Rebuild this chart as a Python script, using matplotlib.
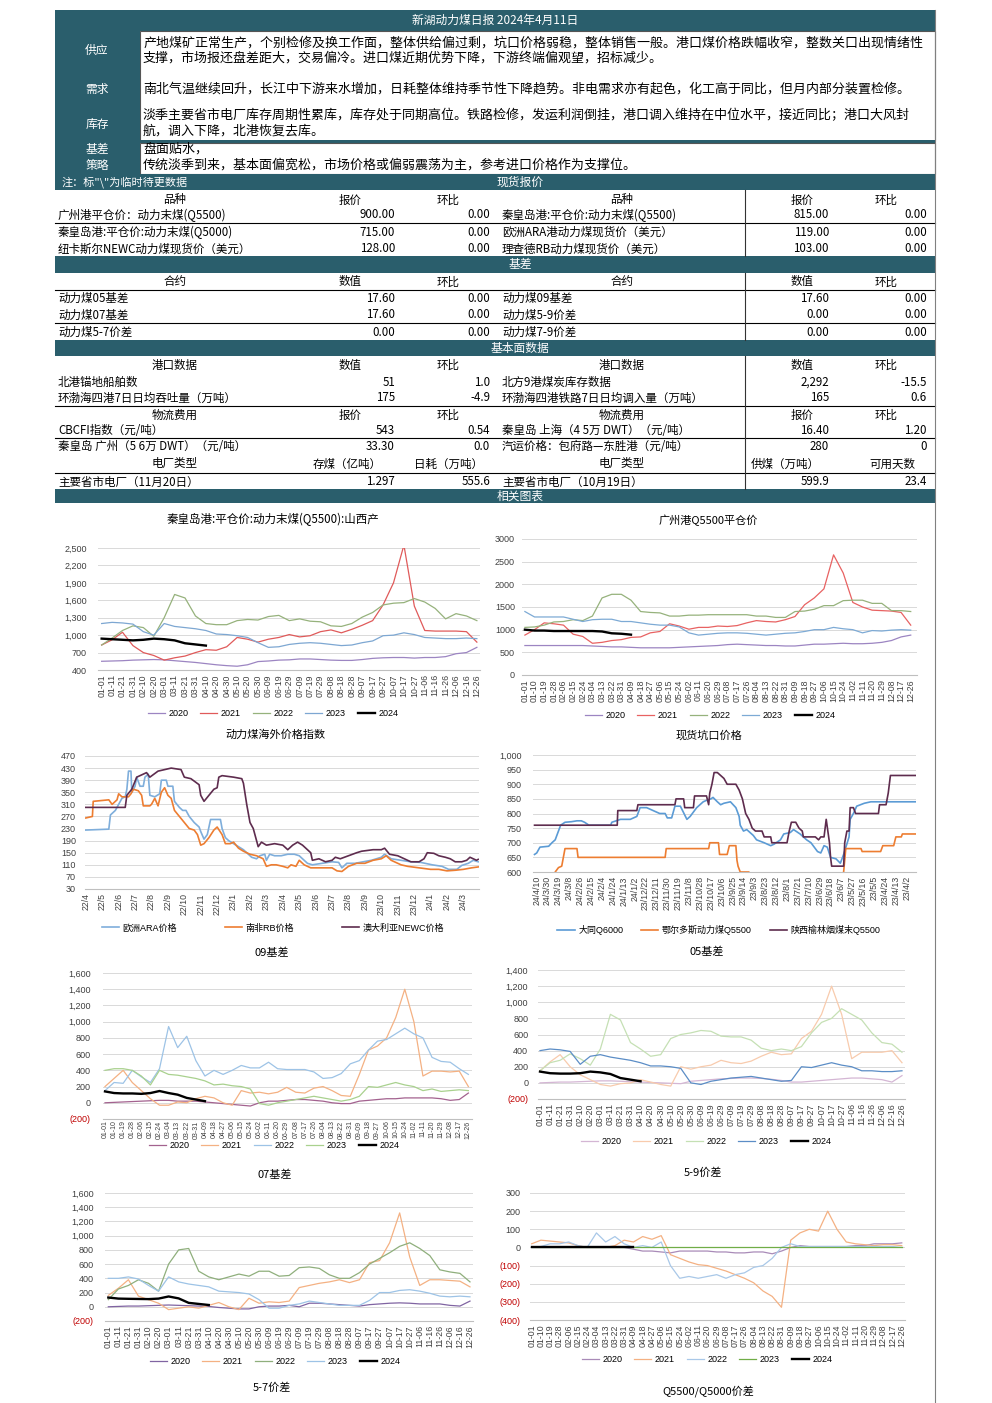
import matplotlib
matplotlib.use('Agg')
import matplotlib.pyplot as plt
from matplotlib.patches import Rectangle
from matplotlib.lines import Line2D

plt.rcParams['font.family'] = ['Noto Sans CJK SC', 'DejaVu Sans']
plt.rcParams['axes.unicode_minus'] = False

# ======================= DATA =======================
report_title = '新湖动力煤日报 2024年4月11日'
supply_lines = ['产地煤矿正常生产，个别检修及换工作面，整体供给偏过剩，坑口价格弱稳，整体销售一般。港口煤价格跌幅收窄，整数关口出现情绪性',
                '支撑，市场报还盘差距大，交易偏冷。进口煤近期优势下降，下游终端偏观望，招标减少。']
demand_lines = ['南北气温继续回升，长江中下游来水增加，日耗整体维持季节性下降趋势。非电需求亦有起色，化工高于同比，但月内部分装置检修。']
stock_lines = ['淡季主要省市电厂库存周期性累库，库存处于同期高位。铁路检修，发运利润倒挂，港口调入维持在中位水平，接近同比；港口大风封',
               '航，调入下降，北港恢复去库。']
strategy_lines = ['盘面贴水，', '传统淡季到来，基本面偏宽松，市场价格或偏弱震荡为主，参考进口价格作为支撑位。']
note_text = '注：标"\\"为临时待更数据'

spot_header = ['品种', '报价', '环比', '品种', '报价', '环比']
spot_rows = [
    ['广州港平仓价：动力末煤(Q5500)', '900.00', '0.00', '秦皇岛港:平仓价:动力末煤(Q5500)', '815.00', '0.00'],
    ['秦皇岛港:平仓价:动力末煤(Q5000)', '715.00', '0.00', '欧洲ARA港动力煤现货价（美元）', '119.00', '0.00'],
    ['纽卡斯尔NEWC动力煤现货价（美元）', '128.00', '0.00', '理查德RB动力煤现货价（美元）', '103.00', '0.00'],
]
basis_header = ['合约', '数值', '环比', '合约', '数值', '环比']
basis_rows = [
    ['动力煤05基差', '17.60', '0.00', '动力煤09基差', '17.60', '0.00'],
    ['动力煤07基差', '17.60', '0.00', '动力煤5-9价差', '0.00', '0.00'],
    ['动力煤5-7价差', '0.00', '0.00', '动力煤7-9价差', '0.00', '0.00'],
]
port_header = ['港口数据', '数值', '环比', '港口数据', '数值', '环比']
port_rows = [
    ['北港锚地船舶数', '51', '1.0', '北方9港煤炭库存数据', '2,292', '-15.5'],
    ['环渤海四港7日日均吞吐量（万吨）', '175', '-4.9', '环渤海四港铁路7日日均调入量（万吨）', '165', '0.6'],
]
freight_header = ['物流费用', '报价', '环比', '物流费用', '报价', '环比']
freight_rows = [
    ['CBCFI指数（元/吨）', '543', '0.54', '秦皇岛 上海（4 5万 DWT）（元/吨）', '16.40', '1.20'],
    ['秦皇岛 广州（5 6万 DWT）（元/吨）', '33.30', '0.0', '汽运价格：包府路—东胜港（元/吨）', '280', '0'],
]
plant_header = ['电厂类型', '存煤（亿吨）', '日耗（万吨）', '电厂类型', '供煤（万吨）', '可用天数']
plant_rows = [
    ['主要省市电厂（11月20日）', '1.297', '555.6', '主要省市电厂（10月19日）', '599.9', '23.4'],
]

years = ['2020', '2021', '2022', '2023', '2024']

labels10 = ['01-01', '01-11', '01-21', '01-31', '02-10', '02-20', '03-01', '03-11', '03-21', '03-31',
            '04-10', '04-20', '04-30', '05-10', '05-20', '05-30', '06-09', '06-19', '06-29', '07-09',
            '07-19', '07-29', '08-08', '08-18', '08-28', '09-07', '09-17', '09-27', '10-07', '10-17',
            '10-27', '11-06', '11-16', '11-26', '12-06', '12-16', '12-26']
labels9 = ['01-01', '01-10', '01-19', '01-28', '02-06', '02-15', '02-24', '03-04', '03-13', '03-22',
           '03-31', '04-09', '04-18', '04-27', '05-06', '05-15', '05-24', '06-02', '06-11', '06-20',
           '06-29', '07-08', '07-17', '07-26', '08-04', '08-13', '08-22', '08-31', '09-09', '09-18',
           '09-27', '10-06', '10-15', '10-24', '11-02', '11-11', '11-20', '11-29', '12-08', '12-17', '12-26']

# Chart 1: 秦皇岛港 Q5500 山西产
c1_2020 = [550, 555, 560, 570, 575, 580, 575, 560, 545, 530, 510, 490, 475, 465, 490, 545, 555, 570, 575, 590,
           590, 580, 570, 565, 565, 580, 600, 610, 615, 615, 605, 615, 615, 630, 680, 700, 790]
c1_2021 = [830, 920, 1050, 820, 700, 650, 570, 610, 640, 700, 750, 740, 800, 960, 930, 880, 930, 960, 1010, 970,
           990, 1060, 1090, 1040, 1100, 1170, 1250, 1520, 1900, 2550, 1500, 1080, 1070, 1070, 1070, 1060, 880]
c1_2022 = [830, 950, 1080, 1160, 1130, 980, 1300, 1700, 1640, 1330, 1200, 1180, 1180, 1250, 1270, 1260, 1320, 1340,
           1250, 1280, 1240, 1230, 1160, 1150, 1200, 1310, 1390, 1520, 1550, 1560, 1630, 1570, 1460, 1280, 1370, 1330, 1250]
c1_2023 = [1200, 1220, 1210, 1190, 1060, 1000, 1200, 1150, 1130, 1110, 1080, 1020, 1010, 990, 960, 870, 790, 800,
           840, 860, 870, 860, 840, 820, 830, 870, 900, 990, 1000, 1040, 1010, 960, 950, 940, 940, 950, 940]
c1_2024 = [940, 930, 920, 910, 920, 940, 930, 910, 860, 840, 820]

# Chart 2: 广州港 Q5500
c2_2020 = [650, 650, 650, 650, 650, 650, 650, 640, 630, 620, 620, 610, 600, 600, 600, 600, 610, 620, 630, 640, 650,
           670, 680, 670, 660, 650, 650, 640, 640, 660, 680, 680, 690, 700, 690, 690, 700, 720, 760, 840, 880]
c2_2021 = [880, 1000, 1150, 1130, 1100, 900, 850, 700, 720, 760, 780, 830, 840, 930, 960, 1130, 1080, 1010, 1050, 1050,
           1080, 1070, 1090, 1150, 1200, 1180, 1170, 1220, 1290, 1550, 1700, 1900, 2650, 2250, 1600, 1500, 1430, 1420,
           1410, 1380, 1100]
c2_2022 = [1050, 1060, 1100, 1170, 1180, 1220, 1200, 1300, 1700, 1780, 1780, 1650, 1400, 1380, 1370, 1300, 1300, 1320,
           1320, 1330, 1330, 1330, 1330, 1330, 1300, 1300, 1270, 1270, 1400, 1410, 1450, 1530, 1530, 1640, 1650, 1650,
           1580, 1580, 1420, 1420, 1400]
c2_2023 = [1400, 1280, 1280, 1280, 1280, 1230, 1180, 1220, 1230, 1230, 1180, 1180, 1150, 1120, 1100, 1100, 1060, 930,
           880, 900, 920, 930, 930, 920, 900, 880, 900, 920, 930, 960, 1000, 1000, 1050, 1020, 1000, 930, 980, 970, 990,
           1000, 990]
c2_2024 = [1000, 980, 980, 970, 970, 970, 970, 970, 960, 920, 910, 890]

# Chart 3: overseas price index (x in months since 2022/4)
c3_labels = ['22/4', '22/5', '22/6', '22/7', '22/8', '22/9', '22/10', '22/11', '22/12', '23/1', '23/2', '23/3',
             '23/4', '23/5', '23/6', '23/7', '23/8', '23/9', '23/10', '23/11', '23/12', '24/1', '24/2', '24/3']
ara_x = [0, 1.4, 1.5, 1.8, 2.2, 2.4, 2.5, 2.6, 2.75, 2.8, 3.0, 3.1, 3.3, 3.5, 3.6, 3.8, 3.9, 4.2, 4.5, 4.6, 4.9, 5.0,
         5.3, 5.4, 5.7, 5.9, 6.1, 6.3, 6.6, 6.9, 7.0, 7.2, 7.4, 7.6, 8.2, 8.3, 8.5, 8.7, 9.0, 9.3, 9.6, 9.8, 10.1,
         10.4, 10.6, 10.9, 11.0, 11.2, 11.5, 11.9, 12.3, 12.7, 13.0, 13.3, 13.5, 13.8, 14.4, 15.0, 15.4, 15.6, 15.9,
         16.4, 16.9, 17.4, 18.0, 18.2, 18.6, 19.2, 19.8, 20.4, 21.1, 21.7, 22.1, 22.6, 22.9, 23.3, 23.6, 23.9]
ara_v = [225, 228, 275, 290, 330, 335, 360, 420, 420, 350, 370, 400, 370, 370, 400, 410, 340, 335, 345, 390, 390, 370,
         370, 320, 300, 290, 290, 270, 250, 235, 220, 195, 210, 260, 260, 230, 200, 190, 180, 170, 160, 150, 135,
         130, 140, 145, 125, 145, 140, 140, 145, 145, 140, 125, 115, 110, 115, 120, 118, 100, 115,
         115, 120, 125, 135, 145, 130, 125, 120, 118, 110, 105, 95, 95, 108, 115, 125, 120]
rb_x = [0, 0.4, 0.45, 1.4, 1.6, 1.9, 2.0, 2.2, 2.6, 2.75, 2.9, 3.2, 3.4, 3.5, 3.9, 4.0, 4.2, 4.4, 4.6, 4.8, 5.0, 5.2,
        5.4, 5.7, 6.0, 6.3, 6.6, 6.8, 7.0, 7.2, 7.5, 7.8, 8.0, 8.3, 8.5, 8.8, 9.0, 9.3, 9.6, 10.0, 10.4, 10.8, 11.0,
        11.3, 11.6, 12.0, 12.3, 12.5, 12.8, 13.0, 13.3, 13.7, 14.2, 15.0, 15.3, 15.6, 16.0, 16.5, 17.0, 17.5, 18.0,
        18.3, 18.6, 19.2, 19.6, 20.3, 21.0, 21.5, 22.0, 22.5, 23.0, 23.5, 23.9]
rb_v = [265, 270, 320, 325, 310, 325, 345, 335, 335, 345, 360, 355, 340, 305, 305, 310, 330, 305, 350, 365, 340, 330,
        290, 270, 250, 230, 225, 210, 175, 180, 200, 225, 235, 210, 180, 180, 185, 165, 155, 145, 140, 130, 105,
        110, 110, 105, 100, 110, 105, 125, 110, 100, 100, 100, 90, 88, 105, 115, 115, 125, 130,
        140, 125, 110, 105, 100, 95, 95, 90, 92, 95, 100, 103]
newc_x = [0, 2.4, 2.5, 2.8, 3.1, 3.5, 3.7, 3.9, 4.4, 4.8, 5.2, 5.8, 6.0, 6.4, 6.9, 7.0, 7.2, 7.5, 7.8, 8.0, 8.1, 8.3,
          9.0, 9.5, 9.6, 9.8, 10.0, 10.2, 10.4, 10.5, 10.7, 11.0, 11.5, 12.0, 12.3, 12.6, 12.9, 13.2, 13.5, 13.7,
          13.8, 14.2, 14.6, 15.0, 15.2, 15.5, 16.0, 16.5, 16.8, 17.5, 18.0, 18.2, 18.5, 19.0, 19.4, 19.8, 20.3, 20.6,
          20.8, 21.2, 21.5, 21.9, 22.2, 22.5, 22.9, 23.2, 23.4, 23.6, 23.8, 23.9]
newc_v = [300, 300, 340, 360, 400, 410, 415, 400, 420, 425, 430, 425, 400, 395, 375, 340, 320, 340, 360, 365, 400, 405,
          400, 395, 380, 310, 250, 230, 190, 170, 185, 175, 180, 175, 160, 175, 185, 175, 160, 150,
          125, 130, 120, 125, 135, 130, 140, 150, 155, 160, 160, 165, 145, 140, 130, 120, 120, 130,
          150, 148, 140, 135, 130, 120, 120, 125, 135, 130, 125, 128]

# Chart 4: pithead prices (x = label index, newest first)
c4_labels = ['24/4/10', '24/3/30', '24/3/19', '24/3/8', '24/2/26', '24/2/15', '24/2/4', '24/1/24', '24/1/13', '24/1/2',
             '23/12/22', '23/12/11', '23/11/30', '23/11/19', '23/11/8', '23/10/28', '23/10/17', '23/10/6', '23/9/25',
             '23/9/14', '23/9/3', '23/8/23', '23/8/12', '23/8/1', '23/7/21', '23/7/10', '23/6/29', '23/6/18', '23/6/7',
             '23/5/27', '23/5/16', '23/5/5', '23/4/24', '23/4/13', '23/4/2']
datong_x = [-0.2, 0, 0.3, 1.1, 1.4, 1.7, 2.0, 2.2, 2.6, 3.2, 3.7, 4.1, 4.4, 4.8, 6.8, 6.9, 7.7, 8.6, 9.2, 9.5, 10.1,
            10.7, 11.3, 11.8, 12.0, 12.4, 12.7, 13.2, 13.8, 14.1, 14.7, 15.3, 15.6, 16.0, 16.2, 16.6, 16.9, 17.2,
            17.8, 18.3, 18.6, 18.7, 19.0, 19.3, 19.9, 20.2, 20.9, 21.5, 21.8, 22.4, 22.7, 23.3, 23.6, 24.2, 24.8,
            25.2, 25.8, 26.1, 26.4, 26.7, 27.0, 27.5, 27.9, 28.2, 28.7, 28.8, 29.1, 29.4, 30.1, 30.7, 34.9]
datong_v = [660, 665, 685, 688, 700, 710, 740, 760, 770, 772, 775, 775, 770, 760, 760, 770, 780, 780, 790, 820, 820,
            810, 800, 800, 785, 785, 825, 825, 780, 790, 820, 840, 845, 850, 855, 840, 830, 835,
            840, 820, 790, 760, 740, 745, 725, 710, 700, 690, 695, 710, 730, 735, 745, 730, 710,
            700, 670, 665, 690, 685, 650, 645, 630, 660, 720, 780, 800, 825, 835, 840, 840]
ordos_x = [-0.2, 1.5, 1.7, 2.0, 2.3, 2.6, 3.7, 3.8, 11.8, 11.9, 15.8, 15.9, 16.7, 16.8, 17.5, 17.7, 18.3, 18.4, 18.5,
           18.7, 19.5, 19.6, 28.1, 28.2, 28.4, 29.8, 29.9, 31.6, 31.8, 32.8, 33.0, 33.5, 33.6, 34.9]
ordos_v = [560, 560, 600, 615, 620, 680, 680, 650, 650, 680, 680, 700, 700, 660, 660, 690, 690, 640, 620,
           600, 600, 560, 560, 600, 680, 680, 670, 670, 690, 690, 720, 720, 730, 730]
yulin_x = [-0.2, 7.4, 7.45, 9.2, 9.3, 12.7, 12.8, 13.5, 13.6, 14.4, 14.5, 15.6, 15.8, 15.9, 16.1, 16.3, 16.6, 17.2,
           17.5, 18.3, 18.6, 18.9, 19.2, 19.5, 19.8, 20.1, 20.7, 20.9, 21.5, 21.6, 23.0, 23.2, 23.4, 23.8, 24.1, 24.4,
           24.5, 25.6, 25.9, 26.1, 26.4, 26.6, 26.75, 26.9, 27.0, 27.1, 28.2, 28.3, 28.5, 28.7, 28.8, 29.1, 29.3,
           31.4, 31.5, 32.1, 32.3, 32.5, 34.9]
yulin_v = [760, 760, 810, 810, 830, 830, 850, 850, 820, 820, 860, 860, 830, 870, 900, 940, 940, 920,
           900, 900, 880, 850, 800, 780, 750, 740, 740, 720, 720, 700, 700, 740, 770, 770, 750, 740,
           720, 720, 710, 720, 720, 780, 740, 700, 650, 620, 620, 700, 740, 740, 820, 820, 800,
           800, 830, 830, 870, 930, 930]

# Chart 5 (under "09基差")
c5_2020 = [0, 5, 10, 15, 20, 25, 30, 30, 20, 20, 20, 10, 0, -10, -20, -30, -40, 0, 20, 20, 30, 40, 40, 30, 20, 0,
           -10, -10, 20, 30, 40, 50, 50, 60, 60, 60, 60, 50, 30, 40, 120]
c5_2021 = [200, 300, 400, 250, 150, 50, -30, -30, 10, 0, 50, 80, 60, 0, -30, 150, 120, 130, 110, 130, 190, 130, 120,
           180, 200, 150, 90, 80, 350, 650, 700, 800, 1050, 1400, 1000, 330, 390, 390, 380, 390, 200]
c5_2022 = [150, 250, 240, 400, 320, 250, 420, 940, 680, 820, 520, 330, 400, 350, 400, 460, 430, 430, 500, 420, 410,
           410, 410, 380, 300, 310, 360, 480, 520, 650, 760, 780, 850, 920, 850, 800, 560, 510, 500, 420, 350]
c5_2023 = [400, 420, 420, 400, 330, 220, 400, 350, 340, 320, 300, 270, 220, 230, 210, 200, 170, -10, -30, 0, 20, 40,
           60, 80, 60, 40, 20, 40, 80, 200, 190, 220, 250, 220, 200, 150, 170, 140, 150, 160, 150]
c5_2024 = [140, 120, 115, 115, 110, 120, 145, 120, 100, 60, 40, 20]

# Chart 6 (under "05基差")
c6_2020 = [0, 5, 10, 10, 15, 20, 25, 25, 20, 15, 10, 5, 0, -5, -10, 20, 30, 40, 50, 55, 60, 60, 55, 45, 30, 10, 10,
           20, 30, 40, 50, 60, 60, 50, 40, 10, 90]
c6_2021 = [150, 260, 350, 200, 100, 40, -20, -40, -10, 0, 40, 10, -20, -40, 200, 170, 200, 220, 280, 250, 240, 270,
           330, 380, 350, 360, 550, 640, 850, 1200, 850, 300, 380, 380, 380, 400, 250]
c6_2022 = [150, 250, 280, 360, 300, 220, 420, 850, 780, 500, 420, 330, 350, 550, 600, 620, 650, 640, 580, 570, 570,
           530, 430, 400, 420, 400, 450, 620, 750, 800, 920, 850, 780, 620, 500, 480, 380]
c6_2023 = [400, 420, 410, 390, 230, 330, 350, 320, 300, 280, 250, 210, 210, 200, 180, 0, -20, 20, 40, 60, 70, 80, 60,
           40, 20, 30, 200, 190, 220, 250, 220, 200, 150, 150, 140, 140, 150]
c6_2024 = [140, 120, 115, 115, 120, 140, 130, 110, 60, 40, 20]

# Chart 7 (under "07基差")
c7_2020 = [0, 5, 10, 10, 15, 20, 25, 20, 15, 10, 5, -10, -20, -30, -30, 0, 10, 10, 20, 0, 50, 50, 40, 30, 20, 10, 30,
           40, 50, 55, 50, 40, 40, 40, 20, 10, 80]
c7_2021 = [160, 260, 380, 150, 100, 50, -40, -20, 0, -20, 20, 60, 0, -40, 120, 50, 70, 60, 80, 270, 300, 330, 350,
           380, 340, 380, 620, 650, 900, 1320, 700, 300, 380, 380, 370, 360, 280]
c7_2022 = [100, 250, 300, 380, 330, 220, 600, 800, 820, 500, 420, 380, 420, 460, 430, 500, 500, 430, 440, 550, 560,
           540, 450, 400, 400, 480, 600, 680, 760, 850, 900, 820, 720, 520, 490, 470, 350]
c7_2023 = [400, 400, 420, 390, 300, 220, 420, 350, 320, 300, 280, 220, 210, 200, 180, 100, -20, -20, 20, 40, 80, 60,
           40, 20, 20, 20, 90, 200, 200, 230, 240, 220, 190, 150, 140, 150, 140]
c7_2024 = [130, 115, 112, 110, 108, 115, 145, 118, 55, 40, 25]

# Chart 8 (under "5-9价差")
c8_2020 = [0, 0, 0, 0, 0, 0, 0, 0, 0, 0, 0, -10, -20, -20, -25, -30, -20, -20, -20, -20, -25, -25, -30, -30, -25, -25,
           -35, -20, 0, 10, 5, 5, 5, 5, 5, 10, 10, 20, 20, 20, 25]
c8_2021 = [20, 40, 35, 30, 25, 10, 0, 0, 0, 10, 40, 30, 60, 45, 65, -40, -60, -80, -95, -100, -115, -130, -150, -170,
           -195, -240, -270, -330, 40, 80, 100, 90, 200, 100, 30, 20, 15, 10, 15, 15, 10]
c8_2022 = [0, 5, 20, 20, 30, 10, 0, 80, 30, 60, 20, 0, 10, 0, 30, -100, -170, -160, -170, -160, -150, -170, -150,
           -140, -110, -100, -60, 0, 20, 5, 5, 5, 5, 5, 5, 5, 5, 5, 5, 5, 0]
c8_2023 = [0, 0, 0, 0, 0, 0, 0, 0, 0, 0, 0, 0, 0, 0, 0, 0, 0, 0, 0, 0, 0, 0, 0, 0, 0, 0, 0, 0, 0, 0, 0, 0, 0, 0, 0,
           0, 0, 0, 0, 0, 0]
c8_2024 = [0, 0, 0, 0, 0, 0, 0, 0, 0, 0, 0, 0]

# ======================= LAYOUT =======================
W, H = 992, 1403
fig = plt.figure(figsize=(W / 100, H / 100), dpi=100)
fig.patch.set_facecolor('white')
TEAL = '#2A5E6C'
TICKFONT = ['Liberation Sans', 'Noto Sans CJK SC']


def fx(x):
    return x / W


def fy(y):
    return 1 - y / H


def rect(x0, y0, x1, y1, color, ec='none', lw=0):
    fig.patches.append(Rectangle((fx(x0), fy(y1)), (x1 - x0) / W, (y1 - y0) / H, transform=fig.transFigure,
                                 facecolor=color, edgecolor=ec, lw=lw))


def line(x0, y0, x1, y1, color='black', lw=0.8):
    fig.add_artist(Line2D([fx(x0), fx(x1)], [fy(y0), fy(y1)], transform=fig.transFigure, color=color, lw=lw))


def txt(x, y, s, ha='left', size=8.5, color='black', **kw):
    fig.text(fx(x), fy(y), s, ha=ha, va='center', fontsize=size, color=color, **kw)


# ---- header block ----
rect(55, 10, 935, 31, TEAL)
txt(495, 20, report_title, ha='center', size=8.5, color='white')
rect(140, 31, 935, 141, 'white', ec='#555555', lw=0.8)
rect(55, 31, 140, 141, TEAL)
txt(97, 50, '供应', ha='center', size=8.5, color='white')
txt(97, 89, '需求', ha='center', size=8.5, color='white')
txt(97, 124, '库存', ha='center', size=8.5, color='white')
TS = 9.35
for i, s in enumerate(supply_lines):
    txt(143, 43 + 15.5 * i, s, size=TS)
txt(143, 89, demand_lines[0], size=TS)
for i, s in enumerate(stock_lines):
    txt(143, 116 + 15.5 * i, s, size=TS)
rect(55, 140, 935, 143, TEAL)
rect(140, 143, 935, 174, 'white', ec='#555555', lw=0.8)
rect(55, 143, 140, 174, TEAL)
txt(97, 150, '基差', ha='center', size=8.5, color='white')
txt(97, 166, '策略', ha='center', size=8.5, color='white')
for i, s in enumerate(strategy_lines):
    txt(143, 149 + 16 * i, s, size=TS)
rect(55, 174, 935, 190, TEAL)
txt(62, 182, note_text, size=8, color='white')
txt(520, 182, '现货报价', ha='center', size=8.5, color='white')

# ---- tables ----
HC = [175, 350, 448, 622, 802, 886]
FS = 8.3


def header_row(y, row, centers=HC):
    for c, s in zip(centers, row):
        txt(c, y, s, ha='center', size=FS)


def data_row(y, row):
    txt(58, y, row[0], size=FS)
    txt(395, y, row[1], ha='right', size=FS)
    txt(490, y, row[2], ha='right', size=FS)
    txt(502, y, row[3], size=FS)
    txt(829, y, row[4], ha='right', size=FS)
    txt(927, y, row[5], ha='right', size=FS)


header_row(200, spot_header)
for yy, r in zip([215, 232, 249], spot_rows):
    data_row(yy, r)
line(55, 222.5, 935, 222.5)
line(745, 190, 745, 256, color='#333333')

rect(55, 256, 935, 273, TEAL)
txt(520, 264.5, '基差', ha='center', size=8.5, color='white')
header_row(282, basis_header)
line(55, 289.5, 935, 289.5)
for yy, r in zip([298, 315, 332], basis_rows):
    data_row(yy, r)
line(55, 322.5, 935, 322.5)
line(745, 273, 745, 340, color='#333333')

rect(55, 340, 935, 356, TEAL)
txt(520, 348, '基本面数据', ha='center', size=8.5, color='white')
header_row(365, port_header)
for yy, r in zip([382, 398], port_rows):
    data_row(yy, r)
line(55, 405.5, 935, 405.5)
header_row(415, freight_header)
data_row(430, freight_rows[0])
line(55, 437.5, 935, 437.5)
data_row(447, freight_rows[1])
header_row(464, plant_header, centers=[175, 347, 448, 622, 785, 892])
line(55, 472.5, 935, 472.5)
data_row(482, plant_rows[0])
line(745, 356, 745, 489, color='#333333')

rect(55, 489, 935, 503, TEAL)
txt(520, 496, '相关图表', ha='center', size=8.5, color='white')

line(934.5, 10, 934.5, 1403, color='#808080', lw=0.8)

# ---- chart titles ----
TT = 8
txt(273, 519, '秦皇岛港:平仓价:动力末煤(Q5500):山西产', ha='center', size=8.3)
txt(708, 520, '广州港Q5500平仓价', ha='center', size=TT)
txt(275, 735, '动力煤海外价格指数', ha='center', size=TT)
txt(709, 735, '现货坑口价格', ha='center', size=TT)
txt(272, 953, '09基差', ha='center', size=TT)
txt(707, 952, '05基差', ha='center', size=TT)
txt(275, 1175, '07基差', ha='center', size=TT)
txt(703, 1173, '5-9价差', ha='center', size=TT)
txt(272, 1388, '5-7价差', ha='center', size=TT)
txt(708, 1391, 'Q5500/Q5000价差', ha='center', size=TT)


def fmt_comma(v):
    s = f'{abs(v):,}'
    return f'({s})' if v < 0 else s


def fmt_plain(v):
    return str(v)


def make_ax(x0, y0, x1, y1, ylim, yticks, fmt, xlim, xticks, xlabels, ypad, xsize=6.3, xpad=3):
    ax = fig.add_axes([fx(x0), fy(y1), (x1 - x0) / W, (y1 - y0) / H])
    ax.set_ylim(*ylim)
    ax.set_yticks(yticks)
    ax.set_yticklabels([fmt(v) for v in yticks], fontsize=6.5, family=TICKFONT)
    for lab, v in zip(ax.get_yticklabels(), yticks):
        lab.set_color('#C00000' if v < 0 else '#404040')
    ax.grid(axis='y', color='#D9D9D9', lw=0.7)
    ax.set_axisbelow(True)
    for s in ['top', 'right', 'left']:
        ax.spines[s].set_visible(False)
    ax.spines['bottom'].set_color('#BFBFBF')
    ax.spines['bottom'].set_linewidth(0.8)
    ax.tick_params(axis='y', length=0, pad=ypad)
    ax.set_xlim(*xlim)
    ax.set_xticks(xticks)
    ax.set_xticklabels(xlabels, rotation=90, fontsize=xsize, family=TICKFONT, color='#404040')
    ax.tick_params(axis='x', length=0, pad=xpad)
    ax.set_facecolor('none')
    return ax


def legend(ax, cx, cy, ncol, colspace=1.3, hl=1.9):
    ax.legend(loc='center', bbox_to_anchor=(fx(cx), fy(cy)), bbox_transform=fig.transFigure, ncol=ncol,
              frameon=False, prop={'family': TICKFONT, 'size': 6.5}, handlelength=hl, handletextpad=0.4,
              columnspacing=colspace, borderpad=0)


def year_chart(box, labels, series, colors, ylim, yticks, fmt, xlim, leg, ypad, xsize=6.3, xpad=3):
    ax = make_ax(*box, ylim, yticks, fmt, xlim, list(range(len(labels))), labels, ypad, xsize, xpad)
    for name, vals, col in zip(years, series, colors):
        lw = 1.7 if name == '2024' else 0.9
        ax.plot(list(range(len(vals))), vals, color=col, lw=lw, label=name)
    legend(ax, leg[0], leg[1], 5)
    return ax


# Chart 1
year_chart((98, 548, 480, 670), labels10, [c1_2020, c1_2021, c1_2022, c1_2023, c1_2024],
           ['#9C85C2', '#E05A5A', '#96B27C', '#7DA7D2', 'black'],
           (400, 2500), list(range(400, 2501, 300)), fmt_comma, (-0.35, 36.3), (273, 714), 8)
# Chart 2
year_chart((522, 539, 917, 675), labels9, [c2_2020, c2_2021, c2_2022, c2_2023, c2_2024],
           ['#9C85C2', '#E86262', '#96B27C', '#7DAAD5', 'black'],
           (0, 3000), list(range(0, 3001, 500)), fmt_plain, (-0.3, 40.65), (710, 716), 5)

# Chart 3
ax3 = make_ax(85, 756, 479, 889, (30, 470), list(range(30, 471, 40)), fmt_plain, (-0.05, 23.95),
              list(range(len(c3_labels))), c3_labels, 6.5)
ax3.plot(ara_x, ara_v, color='#7FAEDB', lw=1.2, label='欧洲ARA价格')
ax3.plot(rb_x, rb_v, color='#ED7D31', lw=1.2, label='南非RB价格')
ax3.plot(newc_x, newc_v, color='#5E2C4E', lw=1.2, label='澳大利亚NEWC价格')
legend(ax3, 273, 928, 3, colspace=5.3)

# Chart 4
ax4 = make_ax(533, 755, 916, 872, (600, 1000), list(range(600, 1001, 50)), fmt_comma, (-0.34, 34.85),
              list(range(len(c4_labels))), c4_labels, 8)
ax4.plot(datong_x, datong_v, color='#5B9BD5', lw=1.2, label='大同Q6000')
ax4.plot(ordos_x, ordos_v, color='#ED7D31', lw=1.2, label='鄂尔多斯动力煤Q5500')
ax4.plot(yulin_x, yulin_v, color='#5E2C4E', lw=1.2, label='陕西榆林烟煤末Q5500')
legend(ax4, 719, 930, 3, colspace=2.0)

# Chart 5
year_chart((103, 973, 472, 1119), labels9, [c5_2020, c5_2021, c5_2022, c5_2023, c5_2024],
           ['#A3628F', '#F4B183', '#9DC3E6', '#A9D18E', 'black'],
           (-200, 1600), list(range(-200, 1601, 200)), fmt_comma, (-0.22, 40.4), (274, 1146), 9,
           xsize=5.0, xpad=1)
# Chart 6
year_chart((538, 970, 905, 1099), labels10, [c6_2020, c6_2021, c6_2022, c6_2023, c6_2024],
           ['#D4B6D4', '#F8CBAD', '#C5E0B4', '#5B8DC6', 'black'],
           (-200, 1400), list(range(-200, 1401, 200)), fmt_comma, (-0.2, 36.3), (706, 1142), 7)
# Chart 7
year_chart((105, 1193, 473, 1321), labels10, [c7_2020, c7_2021, c7_2022, c7_2023, c7_2024],
           ['#8064A2', '#F4B183', '#8FAF7C', '#9DC3E6', 'black'],
           (-200, 1600), list(range(-200, 1601, 200)), fmt_comma, (-0.33, 36.3), (275, 1362), 8)
# Chart 8
year_chart((530, 1193, 905, 1320), labels9, [c8_2020, c8_2021, c8_2022, c8_2023, c8_2024],
           ['#A98BB8', '#F4B183', '#A9C8E8', '#70AD47', 'black'],
           (-400, 300), list(range(-400, 301, 100)), fmt_comma, (-0.18, 40.35), (707, 1360), 7)

fig.savefig('out.png', dpi=100, facecolor='white')
